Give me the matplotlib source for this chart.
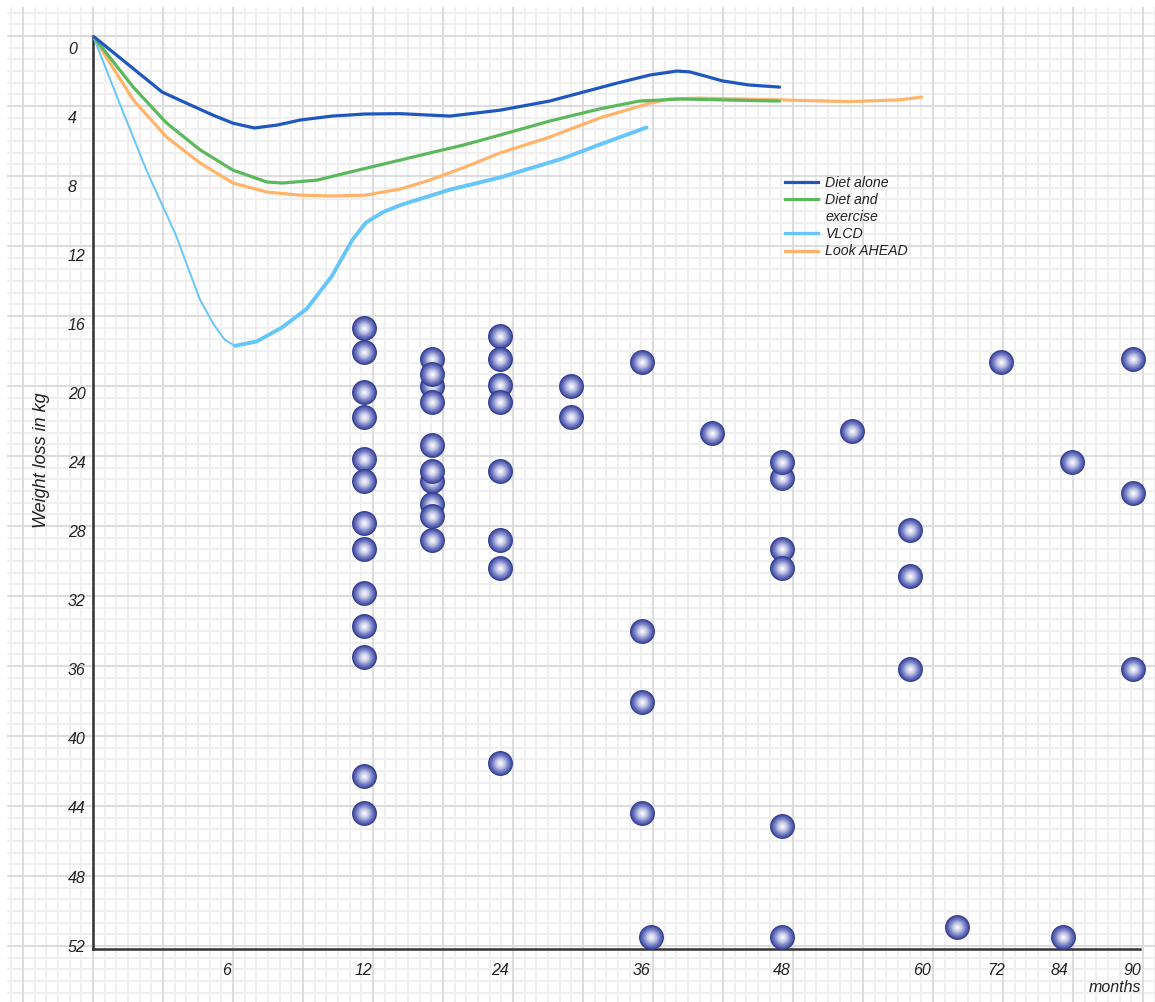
import numpy as np
import matplotlib
matplotlib.use("Agg")
import matplotlib.pyplot as plt
from matplotlib.lines import Line2D
from matplotlib.colors import to_rgb

# ---------------- data ----------------
x_ticks = [6, 12, 24, 36, 48, 60, 72, 84, 90]
y_ticks = list(range(0, 53, 4))

diet_m = [0, 3.1, 4.2, 5.4, 6.26, 7.2, 8.2, 9.2, 10.6, 12.1, 15.2, 19.6, 24, 28.2,
          33.9, 36.7, 39, 40.1, 41.1, 42.9, 45.2, 47.8]
diet_kg = [-0.7, 2.55, 3.2, 3.9, 4.35, 4.63, 4.46, 4.17, 3.94, 3.82, 3.8, 3.94, 3.6, 3.07,
           2.03, 1.56, 1.33, 1.38, 1.56, 1.9, 2.14, 2.26]

dex_m = [0, 1.8, 3.3, 4.8, 6.26, 7.75, 8.45, 9.95, 11.4, 15.2, 17.8, 20.9, 24, 28.2, 32.4,
         35.8, 39.3, 47.8]
dex_kg = [-0.7, 2.26, 4.35, 5.9, 7.07, 7.76, 7.82, 7.65, 7.18, 6.49, 6.08, 5.6, 5.04, 4.23, 3.53,
          3.07, 2.95, 3.07]

vlcd_m1 = [0, 1.1, 2.4, 3.7, 4.8, 5.4, 5.9, 6.35]
vlcd_kg1 = [-0.7, 2.9, 7.1, 10.8, 14.6, 16.0, 16.9, 17.25]
vlcd_m2 = [6.35, 7.3, 8.4, 9.5, 10.6, 11.5, 12.2, 13.7, 15.2, 19.6, 24, 29.3, 32.4, 36.4]
vlcd_kg2 = [17.25, 17.0, 16.2, 15.1, 13.2, 11.1, 10.1, 9.5, 9.1, 8.2, 7.5, 6.4, 5.6, 4.6]

la_m = [0, 1.8, 3.3, 4.8, 6.26, 7.75, 9.2, 10.6, 12.1, 15.2, 17.8, 20.9, 24, 28.2, 32.4,
        36.7, 38.4, 41, 47.8, 53.8, 58.1, 60]
la_kg = [-0.7, 3.0, 5.16, 6.66, 7.82, 8.34, 8.52, 8.57, 8.52, 8.17, 7.65, 6.9, 6.08, 5.16, 4.06,
         3.19, 2.95, 2.9, 3.0, 3.1, 3.0, 2.84]

dot_m = ([12] * 13
         + [18] * 10
         + [24] * 8
         + [30] * 2
         + [36] * 4 + [36.8]
         + [42]
         + [48] * 6
         + [54]
         + [59] * 3
         + [65.7]
         + [73]
         + [85, 84.3]
         + [90] * 3)
dot_kg = ([16.2, 17.6, 19.9, 21.4, 23.8, 25.1, 27.5, 29.0, 31.6, 33.5, 35.3, 42.2, 44.3]
          + [19.6, 25.1, 18.0, 18.9, 20.5, 23.0, 24.5, 26.4, 27.1, 28.5]
          + [16.7, 18.0, 19.5, 20.5, 24.5, 28.5, 30.1, 41.4]
          + [19.6, 21.4]
          + [18.2, 33.8, 37.9, 44.3, 51.5]
          + [22.3]
          + [24.9, 24.0, 29.0, 30.1, 45.1, 51.5]
          + [22.2]
          + [27.9, 30.6, 36.0]
          + [50.9]
          + [18.2]
          + [24.0, 51.5]
          + [18.0, 25.8, 36.0])

# ---------------- piecewise month scale (as drawn in the original) ----------------
knot_month = np.array([0, 6, 12, 24, 36, 48, 60, 72, 84, 90, 96], dtype=float)
knot_pos = np.array([0, 134, 271, 407, 549, 689, 829, 903, 967, 1040, 1113], dtype=float)


def fwd(v):
    return np.interp(v, knot_month, knot_pos)


def inv(p):
    return np.interp(p, knot_pos, knot_month)


W, H = 1155, 1002
fig = plt.figure(figsize=(W / 100, H / 100), dpi=100)

# graph-paper background
bg = fig.add_axes([0, 0, 1, 1], zorder=0)
bg.set_xlim(0, W)
bg.set_ylim(H, 0)
bg.axis("off")
step = 70 / 6
for k in range(-2, 110):
    major = (k % 6 == 0)
    col = "#dcdcdc" if major else "#efefef"
    lw = 1.5 if major else 1.4
    zo = 1 if major else 0
    x = 23 + k * step
    if 6 <= x <= W:
        bg.vlines(x, 7, H, color=col, lw=lw, zorder=zo)
    y = 36 + k * step
    if 6 <= y <= H:
        bg.hlines(y, 7, W, color=col, lw=lw, zorder=zo)

ax = fig.add_axes([93 / W, 1 - 949 / H, (1140 - 93) / W, (949 - 36) / H], zorder=2)
ax.patch.set_alpha(0)
ax.set_xscale("function", functions=(fwd, inv))
ax.set_xlim(0, 90.6)
ax.set_ylim(52.2, -0.7)

for s in ("top", "right"):
    ax.spines[s].set_visible(False)
for s in ("left", "bottom"):
    ax.spines[s].set_color("#333333")
    ax.spines[s].set_linewidth(1.8)

FONT = "Liberation Sans"
ax.set_xticks(x_ticks)
ax.set_xticklabels([str(t) for t in x_ticks], fontstyle="italic", fontsize=11.5,
                   family=FONT, color="#222222")
ax.set_yticks(y_ticks)
ax.set_yticklabels([str(t) for t in y_ticks], fontstyle="italic", fontsize=11.5,
                   family=FONT, color="#222222")
ax.xaxis.set_minor_locator(matplotlib.ticker.NullLocator())
ax.tick_params(axis="both", length=0)
ax.tick_params(axis="x", pad=10)
ax.tick_params(axis="y", pad=18)
for lab in ax.get_yticklabels():
    lab.set_horizontalalignment("left")

# curves
c_diet = "#1f56bf"
c_dex = "#5cb85c"
c_vlcd = "#66c6fb"
c_la = "#ffb46a"
kw = dict(solid_capstyle="round", solid_joinstyle="round")
ax.plot(diet_m, diet_kg, color=c_diet, lw=2.3, zorder=5, **kw)
ax.plot(dex_m, dex_kg, color=c_dex, lw=2.3, zorder=4, **kw)
ax.plot(la_m, la_kg, color=c_la, lw=2.3, zorder=3, **kw)
ax.plot(vlcd_m1, vlcd_kg1, color=c_vlcd, lw=1.4, zorder=3, **kw)
ax.plot(vlcd_m2, vlcd_kg2, color=c_vlcd, lw=2.8, zorder=3, **kw)

# shaded spheres
stops_t = [0.0, 0.1, 0.35, 0.65, 1.0]
stops_c = np.array([to_rgb(c) for c in ["#2a3590", "#4853a6", "#7a82c4", "#c4c8e8", "#ffffff"]])
S = 320
n_layers = 18
z = 10
for m, kg in zip(dot_m, dot_kg):
    for i in range(n_layers):
        t = i / (n_layers - 1)
        r = 1 - 0.96 * t
        col = [np.interp(t, stops_t, stops_c[:, ch]) for ch in range(3)]
        ax.scatter([m], [kg], s=S * r * r, color=col, linewidths=0, zorder=z, clip_on=False)
        z += 0.001
    z += 0.02

# legend
handles = [Line2D([], [], color=c_diet, lw=2.3),
           Line2D([], [], color=c_dex, lw=2.3),
           Line2D([], [], color="none", lw=0),
           Line2D([], [], color=c_vlcd, lw=2.3),
           Line2D([], [], color=c_la, lw=2.3)]
labels = ["Diet alone", "Diet and", "exercise", "VLCD", "Look AHEAD"]
leg = fig.legend(handles, labels, loc="upper left",
                 bbox_to_anchor=(785 / W, 1 - 176 / H),
                 frameon=False, handlelength=2.3, handletextpad=0.55,
                 labelspacing=0.22, borderpad=0, borderaxespad=0,
                 prop={"family": FONT, "style": "italic", "size": 10.2})
for t in leg.get_texts():
    t.set_color("#222222")

fig.text(42 / W, 1 - 460 / H, "Weight loss in kg", rotation=90, ha="center", va="center",
         fontsize=13, fontstyle="italic", family=FONT, color="#222222")
fig.text(1141 / W, 1 - 987 / H, "months", ha="right", va="center",
         fontsize=11.5, fontstyle="italic", family=FONT, color="#222222")

fig.savefig("out.png", dpi=100)
